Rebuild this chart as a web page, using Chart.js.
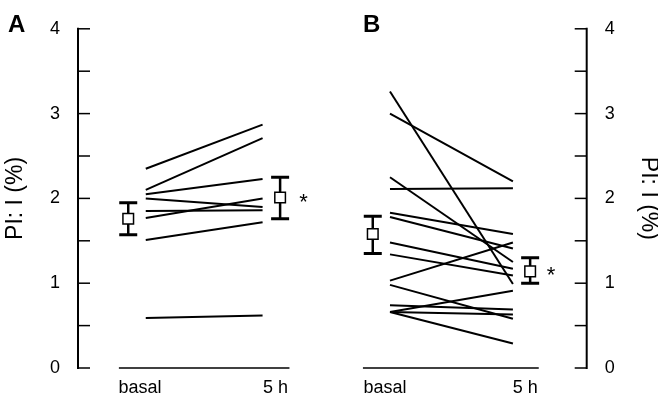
<!DOCTYPE html>
<html>
<head>
<meta charset="utf-8">
<script src="https://cdn.jsdelivr.net/npm/chart.js@4.4.1/dist/chart.umd.min.js"></script>
<style>
  body { margin: 0; background: #fff; }
  #wrap { position: relative; width: 658px; height: 397px; }
  #chartA { position: absolute; left: 0; top: 0; }
  #chartB { position: absolute; left: 330px; top: 0; }
</style>
</head>
<body>
<div id="wrap">
  <canvas id="chartA" width="330" height="397"></canvas>
  <canvas id="chartB" width="328" height="397"></canvas>
</div>
<script>
const xLabels = ['basal', '5 h'];
const yTitle = 'PI: I (%)';

// panel A - each subject: basal value -> 5 h value
const basalA = [2.35, 2.10, 2.05, 2.00, 1.85, 1.77, 1.51, 0.59];
const fiveHA = [2.87, 2.71, 2.23, 1.90, 1.86, 2.00, 1.72, 0.62];
const meanA = [1.76, 2.01];
const errLowA = [1.57, 1.76];
const errHighA = [1.95, 2.25];

// panel B
const basalB = [3.26, 3.00, 2.25, 2.11, 1.83, 1.78, 1.48, 1.34, 1.03, 0.98, 0.74, 0.66, 0.66, 0.66];
const fiveHB = [0.99, 2.20, 1.25, 2.12, 1.58, 1.41, 1.17, 1.09, 1.48, 0.58, 0.69, 0.91, 0.63, 0.29];
const meanB = [1.58, 1.14];
const errLowB = [1.35, 1.00];
const errHighB = [1.79, 1.30];

Chart.defaults.font.family = "'Liberation Sans', Arial, sans-serif";
Chart.defaults.color = '#000';

// draws the bracket-style axes, error bars, asterisk and panel letter
const panelPlugin = {
  id: 'panel',
  beforeDatasetsDraw(chart, args, o) {
    const { ctx, chartArea } = chart;
    const xs = chart.scales.x, ys = chart.scales.y;
    ctx.save();
    ctx.strokeStyle = '#000';

    // y axis with inward ticks
    const ax = o.side === 'left' ? chartArea.left : chartArea.right;
    const dir = o.side === 'left' ? 1 : -1;
    ctx.lineWidth = 2;
    ctx.beginPath();
    ctx.moveTo(ax, ys.getPixelForValue(ys.min) + 1);
    ctx.lineTo(ax, ys.getPixelForValue(ys.max) - 1);
    ctx.stroke();
    ctx.lineWidth = 1.5;
    for (let v = ys.min; v <= ys.max; v += 0.5) {
      const py = ys.getPixelForValue(v);
      ctx.beginPath();
      ctx.moveTo(ax, py);
      ctx.lineTo(ax + dir * 12, py);
      ctx.stroke();
    }

    // detached x axis line
    ctx.lineWidth = 1.5;
    const py0 = ys.getPixelForValue(0);
    ctx.beginPath();
    ctx.moveTo(xs.getPixelForValue(o.xLine[0]), py0);
    ctx.lineTo(xs.getPixelForValue(o.xLine[1]), py0);
    ctx.stroke();

    // error bars round the means
    o.meanX.forEach((mx, i) => {
      const px = xs.getPixelForValue(mx);
      const top = ys.getPixelForValue(o.hi[i]);
      const bot = ys.getPixelForValue(o.lo[i]);
      ctx.lineWidth = 2.5;
      ctx.beginPath();
      ctx.moveTo(px, top);
      ctx.lineTo(px, bot);
      ctx.stroke();
      ctx.lineWidth = 3;
      ctx.beginPath();
      ctx.moveTo(px - 9, top); ctx.lineTo(px + 9, top);
      ctx.moveTo(px - 9, bot); ctx.lineTo(px + 9, bot);
      ctx.stroke();
    });
    ctx.restore();
  },
  afterDraw(chart, args, o) {
    const { ctx } = chart;
    const xs = chart.scales.x, ys = chart.scales.y;
    ctx.save();
    ctx.fillStyle = '#000';
    ctx.font = "22px 'Liberation Sans', Arial, sans-serif";
    ctx.textAlign = 'center';
    ctx.textBaseline = 'alphabetic';
    ctx.fillText('*', xs.getPixelForValue(o.starX), ys.getPixelForValue(o.starY) + 11);
    ctx.font = "bold 24px 'Liberation Sans', Arial, sans-serif";
    ctx.textAlign = 'left';
    ctx.fillText(o.letter, o.letterPos[0], o.letterPos[1]);
    ctx.restore();
  }
};

function makePanel(id, basal, fiveH, mean, lo, hi, cfg) {
  const datasets = basal.map((b, i) => ({
    data: [{ x: 0, y: b }, { x: 1, y: fiveH[i] }],
    showLine: true,
    borderColor: '#000',
    borderWidth: 2,
    pointRadius: 0,
    pointHoverRadius: 0
  }));
  datasets.push({
    data: cfg.meanX.map((x, i) => ({ x: x, y: mean[i] })),
    pointStyle: 'rect',
    pointRadius: 7.5,
    backgroundColor: '#fff',
    borderColor: '#000',
    borderWidth: 1.5
  });

  return new Chart(document.getElementById(id), {
    type: 'scatter',
    data: { datasets },
    options: {
      responsive: false,
      animation: false,
      devicePixelRatio: 1,
      layout: { padding: cfg.padding },
      plugins: {
        legend: { display: false },
        tooltip: { enabled: false },
        panel: {
          side: cfg.side, xLine: cfg.xLine, meanX: cfg.meanX, lo, hi,
          starX: cfg.starX, starY: mean[1], letter: cfg.letter, letterPos: cfg.letterPos
        }
      },
      scales: {
        x: {
          type: 'linear',
          min: cfg.xMin, max: cfg.xMax,
          grid: { display: false, drawTicks: false },
          border: { display: false },
          afterBuildTicks: s => { s.ticks = cfg.labelX.map(v => ({ value: v })); },
          afterFit: s => { s.height = 29; },
          ticks: {
            autoSkip: false, maxRotation: 0, padding: 9,
            font: { size: 18 },
            callback: (v, i) => xLabels[i]
          }
        },
        y: {
          position: cfg.side,
          min: 0, max: 4,
          grid: { display: false, drawTicks: false },
          border: { display: false },
          afterFit: s => { s.width = cfg.yWidth; },
          ticks: { stepSize: 1, padding: 18, font: { size: 18 } },
          title: {
            display: true, text: yTitle,
            font: { size: 23, lineHeight: 1 },
            padding: cfg.titlePad
          }
        }
      }
    },
    plugins: [panelPlugin]
  });
}

makePanel('chartA', basalA, fiveHA, meanA, errLowA, errHighA, {
  side: 'left', xMin: -0.58, xMax: 1.5, yWidth: 78,
  padding: { top: 17, left: 0, right: 0, bottom: 0 },
  titlePad: { top: 4, bottom: 0 },
  xLine: [-0.23, 1.23], meanX: [-0.15, 1.15], labelX: [-0.05, 1.11],
  starX: 1.35, letter: 'A', letterPos: [8, 32]
});

makePanel('chartB', basalB, fiveHB, meanB, errLowB, errHighB, {
  side: 'right', xMin: -0.4, xMax: 1.6, yWidth: 71.3,
  padding: { top: 17, left: 10.8, right: 0, bottom: 0 },
  titlePad: { top: -2, bottom: 0 },
  xLine: [-0.22, 1.21], meanX: [-0.14, 1.14], labelX: [-0.04, 1.10],
  starX: 1.31, letter: 'B', letterPos: [33, 32]
});
</script>
</body>
</html>
